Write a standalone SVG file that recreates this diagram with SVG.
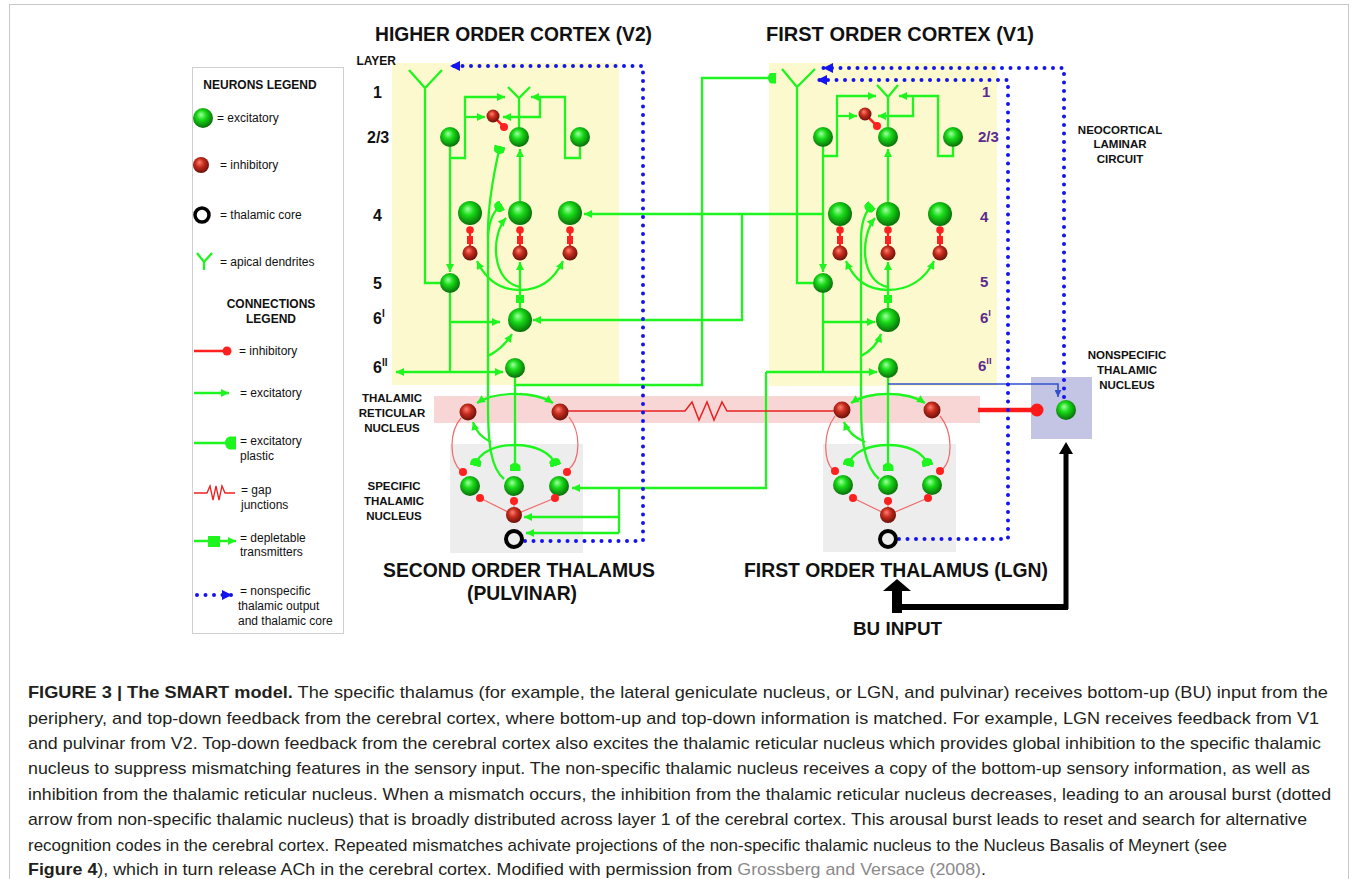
<svg xmlns="http://www.w3.org/2000/svg" width="1358" height="879" viewBox="0 0 1358 879">
<defs>
<radialGradient id="gG" cx="0.45" cy="0.42" r="0.6" fx="0.4" fy="0.33">
<stop offset="0" stop-color="#a6ffa6"/><stop offset="0.4" stop-color="#18dc18"/><stop offset="1" stop-color="#086808"/>
</radialGradient>
<radialGradient id="gR" cx="0.45" cy="0.42" r="0.6" fx="0.4" fy="0.33">
<stop offset="0" stop-color="#ff8070"/><stop offset="0.45" stop-color="#c62b1d"/><stop offset="1" stop-color="#641009"/>
</radialGradient>
<marker id="ag" viewBox="0 0 10 10" refX="10" refY="5" markerWidth="9" markerHeight="8" markerUnits="userSpaceOnUse" orient="auto"><path d="M0,0L10,5L0,10z" fill="#1ef51e"/></marker>
<marker id="mp" viewBox="0 -5.5 8 11" refX="8" refY="0" markerWidth="8" markerHeight="11" markerUnits="userSpaceOnUse" orient="auto"><path d="M8,-5.5L8,5.5L4,5.5A4,5.5 0 0 1 4,-5.5Z" fill="#1ef51e"/></marker>
<marker id="ab" viewBox="0 0 10 10" refX="10" refY="5" markerWidth="11" markerHeight="10" markerUnits="userSpaceOnUse" orient="auto"><path d="M0,0L10,5L0,10z" fill="#1414ee"/></marker>
<marker id="abs" viewBox="0 0 10 10" refX="10" refY="5" markerWidth="7" markerHeight="7" markerUnits="userSpaceOnUse" orient="auto"><path d="M0,0L10,5L0,10z" fill="#3050d0"/></marker>
</defs>
<style>
.g{fill:none;stroke:#1ef51e;stroke-width:2.3}
.ga{marker-end:url(#ag)}
.gp{marker-end:url(#mp)}
.ex{fill:url(#gG)}
.in{fill:url(#gR)}
.rd{fill:#ff2020}
.rl{fill:none;stroke:#f06a6a;stroke-width:1.2}
.bd{fill:none;stroke:#1414ee;stroke-width:4;stroke-dasharray:0 8.5;stroke-linecap:round;marker-end:url(#ab)}
.t{font-family:"Liberation Sans",Arial,sans-serif;font-weight:bold;fill:#111}
.n{font-family:"Liberation Sans",Arial,sans-serif;fill:#111;font-size:12px}
.s{font-size:11.5px;text-anchor:middle}
.ly{font-size:16px}
.pu{font-size:15px;fill:#5f2a8e}
.cap{font-family:"Liberation Sans",Arial,sans-serif;font-size:17px;fill:#231f20}
</style>
<rect x="9.5" y="4.5" width="1339" height="900" fill="#fff" stroke="#c8c8c8"/>

<g id="backgrounds">
<rect x="392" y="63" width="227" height="322" fill="#fcf9cf"/>
<rect x="769" y="63" width="228" height="323" fill="#fcf9cf"/>
<rect x="434" y="396" width="546" height="27" fill="#f9d6d6"/>
<rect x="450" y="444" width="133" height="109" fill="#ededed"/>
<rect x="823" y="444" width="133" height="108" fill="#ededed"/>
<rect x="1031" y="377" width="61" height="62" fill="#c4c5e4"/>
</g>

<g id="legend">
<rect x="192.5" y="67.5" width="151" height="566" fill="#fff" stroke="#cfcfcf"/>
<text class="t" x="260" y="89" font-size="12" text-anchor="middle">NEURONS LEGEND</text>
<circle class="ex" cx="203" cy="118" r="10"/>
<text class="n" x="217" y="122">= excitatory</text>
<circle class="in" cx="201" cy="165" r="8"/>
<text class="n" x="220" y="169">= inhibitory</text>
<circle cx="202" cy="215" r="7" fill="none" stroke="#000" stroke-width="3.5"/>
<text class="n" x="220" y="219">= thalamic core</text>
<path class="g" d="M197,253L204,262L212,253M204,262L204,270"/>
<text class="n" x="220" y="266">= apical dendrites</text>
<text class="t" x="271" y="308" font-size="12" text-anchor="middle">CONNECTIONS</text>
<text class="t" x="271" y="323" font-size="12" text-anchor="middle">LEGEND</text>
<path d="M194,351L224,351" stroke="#ff2020" stroke-width="2.5" fill="none"/>
<circle class="rd" cx="227" cy="351" r="4.5"/>
<text class="n" x="239" y="355">= inhibitory</text>
<path class="g ga" d="M194,393L229,393"/>
<text class="n" x="240" y="397">= excitatory</text>
<path class="g" d="M194,443L228,443"/>
<path d="M236,436.5L236,449.5L230,449.5A5,6.5 0 0 1 230,436.5Z" fill="#1ef51e"/>
<text class="n" x="240" y="445">= excitatory</text>
<text class="n" x="240" y="460">plastic</text>
<path d="M194,493L207,493L210,486L213,500L216,486L219,500L222,486L225,493L235,493" fill="none" stroke="#ee2020" stroke-width="1.3"/>
<text class="n" x="241" y="494">= gap</text>
<text class="n" x="241" y="509">junctions</text>
<path class="g ga" d="M194,541L236,541"/>
<rect x="208" y="536" width="12" height="11" fill="#1ef51e"/>
<text class="n" x="240" y="542">= depletable</text>
<text class="n" x="240" y="556">transmitters</text>
<path class="bd" d="M197,595L232,595"/>
<text class="n" x="240" y="595">= nonspecific</text>
<text class="n" x="238" y="610">thalamic output</text>
<text class="n" x="238" y="625">and thalamic core</text>
</g>

<g id="labels">
<text class="t" x="375" y="41" font-size="20" textLength="277" lengthAdjust="spacingAndGlyphs">HIGHER ORDER CORTEX (V2)</text>
<text class="t" x="766" y="41" font-size="20" textLength="268" lengthAdjust="spacingAndGlyphs">FIRST ORDER CORTEX (V1)</text>
<text class="t" x="383" y="577" font-size="20" textLength="272" lengthAdjust="spacingAndGlyphs">SECOND ORDER THALAMUS</text>
<text class="t" x="467" y="600" font-size="20" textLength="110" lengthAdjust="spacingAndGlyphs">(PULVINAR)</text>
<text class="t" x="744" y="577" font-size="20" textLength="304" lengthAdjust="spacingAndGlyphs">FIRST ORDER THALAMUS (LGN)</text>
<text class="t" x="853" y="635" font-size="18" textLength="89" lengthAdjust="spacingAndGlyphs">BU INPUT</text>
<text class="t" x="396" y="65" font-size="12" text-anchor="end">LAYER</text>
<text class="t ly" x="373" y="98">1</text>
<text class="t ly" x="367" y="143">2/3</text>
<text class="t ly" x="373" y="221">4</text>
<text class="t ly" x="373" y="289">5</text>
<text class="t ly" x="373" y="324">6<tspan font-size="10" dy="-7">I</tspan></text>
<text class="t ly" x="373" y="373">6<tspan font-size="10" dy="-7">II</tspan></text>
<text class="t pu" x="982" y="97">1</text>
<text class="t pu" x="978" y="142">2/3</text>
<text class="t pu" x="980" y="222">4</text>
<text class="t pu" x="980" y="287">5</text>
<text class="t pu" x="980" y="323">6<tspan font-size="9.5" dy="-7">I</tspan></text>
<text class="t pu" x="978" y="371">6<tspan font-size="9.5" dy="-7">II</tspan></text>
<text class="t s" x="1120" y="134">NEOCORTICAL</text>
<text class="t s" x="1120" y="148">LAMINAR</text>
<text class="t s" x="1120" y="163">CIRCUIT</text>
<text class="t s" x="1127" y="359">NONSPECIFIC</text>
<text class="t s" x="1127" y="374">THALAMIC</text>
<text class="t s" x="1127" y="389">NUCLEUS</text>
<text class="t s" x="392" y="402">THALAMIC</text>
<text class="t s" x="392" y="417">RETICULAR</text>
<text class="t s" x="392" y="432">NUCLEUS</text>
<text class="t s" x="394" y="490">SPECIFIC</text>
<text class="t s" x="394" y="505">THALAMIC</text>
<text class="t s" x="394" y="520">NUCLEUS</text>
</g>

<g id="connectors">
<path class="g ga" d="M450,147L450,272"/>
<path class="g ga" d="M450,158L465,158L465,97L505,97"/>
<path class="g ga" d="M465,117L485,117"/>
<path class="g ga" d="M580,147L580,158L565,158L565,97L531,97"/>
<path class="g ga" d="M540,97L540,117L503,117"/>
<path class="g ga" d="M520,201L520,149"/>
<path class="g" d="M450,293L450,372"/>
<path class="g ga" d="M450,322L500,322"/>
<path class="g ga" d="M450,372L396,372"/>
<path class="g ga" d="M450,372L503,372"/>
<path class="g" d="M520,308L520,290"/>
<rect x="516" y="295" width="8" height="8" fill="#1ef51e"/>
<path class="g ga" d="M520,290L520,262"/>
<path class="g ga" d="M520,290C500,290 486,280 477,261"/>
<path class="g ga" d="M520,290C540,290 554,280 563,261"/>
<path class="g ga" d="M520,287C492,282 490,236 506,218"/>
<path class="g gp" d="M504,479C491,468 488,445 488,405L488,232C488,205 494,172 500,146"/>
<path class="g gp" d="M488,236C489,220 494,210 502,205"/>
<path class="g ga" d="M488,356C496,352 505,345 512,334"/>
<path class="g ga" d="M491,442C482,438 476,432 473,422"/>
<path class="g gp" d="M515,378L515,471"/>
<path class="g gp" d="M515,385L702,385L702,78L776,78"/>
<path class="g ga" d="M515,394C498,394 486,397 477,403"/>
<path class="g ga" d="M515,394C532,394 544,397 553,403"/>
<path class="g gp" d="M515,445C497,445 479,451 475,466"/>
<path class="g gp" d="M515,445C533,445 551,451 556,466"/>
<path class="g ga" d="M823,214L584,214"/>
<path class="g ga" d="M742,214L742,320L533,320"/>
<path class="g ga" d="M823,147L823,272"/>
<path class="g ga" d="M823,156L837,156L837,96L876,96"/>
<path class="g ga" d="M837,116L857,116"/>
<path class="g ga" d="M953,147L953,156L938,156L938,96L899,96"/>
<path class="g ga" d="M913,96L913,116L878,116"/>
<path class="g ga" d="M888,202L888,149"/>
<path class="g" d="M823,293L823,372"/>
<path class="g ga" d="M823,322L875,322"/>
<path class="g ga" d="M766,372L877,372"/>
<path class="g ga" d="M766,372L766,488L572,488"/>
<path class="g" d="M619,488L619,533"/>
<path class="g ga" d="M619,517L524,517"/>
<path class="g ga" d="M619,533L526,533"/>
<path class="g" d="M888,308L888,290"/>
<rect x="884" y="295" width="8" height="8" fill="#1ef51e"/>
<path class="g ga" d="M888,290L888,262"/>
<path class="g ga" d="M888,290C868,290 854,280 846,261"/>
<path class="g ga" d="M888,290C908,290 925,280 934,261"/>
<path class="g ga" d="M888,287C860,282 860,236 875,218"/>
<path class="g gp" d="M879,479C866,468 861,445 861,405L861,240C861,222 865,212 872,205"/>
<path class="g ga" d="M861,356C869,352 877,345 881,334"/>
<path class="g ga" d="M865,442C855,438 848,432 844,422"/>
<path class="g gp" d="M888,378L888,471"/>
<path class="g ga" d="M888,394C871,394 860,397 851,403"/>
<path class="g ga" d="M888,394C905,394 916,397 925,403"/>
<path class="g gp" d="M888,445C870,445 852,451 848,466"/>
<path class="g gp" d="M888,445C906,445 924,451 928,466"/>
<path d="M493,116L504,127M865,114L877,126" stroke="#ff2020" stroke-width="2.5" fill="none"/>
<path d="M470,229L470,246M520,229L520,246M570,229L570,246M840,229L840,246M888,229L888,246M940,229L940,246" stroke="#ff2020" stroke-width="2.2" fill="none"/>
<path class="rl" d="M461,418C449,432 449,460 461,471M569,417C581,432 581,460 568,470M514,515L480,498M514,515L514,501M514,515L555,498"/>
<path class="rl" d="M835,416C823,432 823,460 833,470M940,416C953,432 953,460 942,470M888,515L853,498M888,515L888,501M888,515L928,498"/>
<path d="M568,411L685,411L692,402L699,420L707,402L714,420L722,402L727,411L834,411" fill="none" stroke="#e82020" stroke-width="1.5"/>
<path d="M978,410L1033,410" stroke="#ff1a1a" stroke-width="4.5" fill="none"/>
<circle cx="1037" cy="410" r="6.5" fill="#ff1a1a"/>
<path d="M888,384L1058,384L1058,397" fill="none" stroke="#3050d0" stroke-width="1.6" marker-end="url(#abs)"/>
<path class="bd" d="M525,541L643,541L643,66L450,66"/>
<path class="bd" d="M899,539L1008,539L1008,80L817,80"/>
<path class="bd" d="M1064,397L1064,68L823,68"/>
<path d="M895,607L1068,607" stroke="#000" stroke-width="6" fill="none"/>
<path d="M1066,609L1066,452" stroke="#000" stroke-width="5" fill="none"/>
<path d="M1059,454L1073,454L1066,442Z" fill="#000"/>
<rect x="892" y="589" width="10" height="24" fill="#000"/>
<path d="M883,591L911,591L897,579Z" fill="#000"/>
</g>

<g id="v2-l5-apical"><path class="g" d="M409,70L425,88L442,70M425,88L425,283L440,283"/></g>
<g id="v2-l23-left"><circle class="ex" cx="450" cy="137" r="10"/></g>
<g id="v2-l23-center"><path class="g" d="M508,87L519,98L530,87M519,98L519,127"/><circle class="ex" cx="519" cy="137" r="10"/></g>
<g id="v2-l23-right"><circle class="ex" cx="580" cy="137" r="10"/></g>
<g id="v2-l23-inh"><circle class="in" cx="493" cy="116" r="6.5"/><circle class="rd" cx="504" cy="127" r="4"/></g>
<g id="v2-l4-left"><circle class="ex" cx="470" cy="213" r="12"/><circle class="rd" cx="470" cy="230" r="3.8"/><rect x="467" y="236" width="6" height="8" fill="#ff2020"/><circle class="in" cx="470" cy="253" r="7.5"/></g>
<g id="v2-l4-center"><circle class="ex" cx="520" cy="213" r="12"/><circle class="rd" cx="520" cy="230" r="3.8"/><rect x="517" y="236" width="6" height="8" fill="#ff2020"/><circle class="in" cx="520" cy="253" r="7.5"/></g>
<g id="v2-l4-right"><circle class="ex" cx="570" cy="213" r="12"/><circle class="rd" cx="570" cy="230" r="3.8"/><rect x="567" y="236" width="6" height="8" fill="#ff2020"/><circle class="in" cx="570" cy="253" r="7.5"/></g>
<g id="v2-l5"><circle class="ex" cx="450" cy="283" r="10"/></g>
<g id="v2-l6i"><circle class="ex" cx="520" cy="320" r="12"/></g>
<g id="v2-l6ii"><circle class="ex" cx="515" cy="368" r="10"/></g>
<g id="v1-l5-apical"><path class="g" d="M782,69L797,87L815,69M797,87L797,283L813,283"/></g>
<g id="v1-l23-left"><circle class="ex" cx="823" cy="137" r="10"/></g>
<g id="v1-l23-center"><path class="g" d="M877,85L888,97L898,85M888,97L888,127"/><circle class="ex" cx="888" cy="137" r="10"/></g>
<g id="v1-l23-right"><circle class="ex" cx="953" cy="137" r="10"/></g>
<g id="v1-l23-inh"><circle class="in" cx="865" cy="114" r="6.5"/><circle class="rd" cx="877" cy="126" r="4"/></g>
<g id="v1-l4-left"><circle class="ex" cx="840" cy="214" r="12"/><circle class="rd" cx="840" cy="230" r="3.8"/><rect x="837" y="236" width="6" height="8" fill="#ff2020"/><circle class="in" cx="840" cy="253" r="7.5"/></g>
<g id="v1-l4-center"><circle class="ex" cx="888" cy="214" r="12"/><circle class="rd" cx="888" cy="230" r="3.8"/><rect x="885" y="236" width="6" height="8" fill="#ff2020"/><circle class="in" cx="888" cy="253" r="7.5"/></g>
<g id="v1-l4-right"><circle class="ex" cx="940" cy="214" r="12"/><circle class="rd" cx="940" cy="230" r="3.8"/><rect x="937" y="236" width="6" height="8" fill="#ff2020"/><circle class="in" cx="940" cy="253" r="7.5"/></g>
<g id="v1-l5"><circle class="ex" cx="823" cy="283" r="10"/></g>
<g id="v1-l6i"><circle class="ex" cx="888" cy="320" r="12"/></g>
<g id="v1-l6ii"><circle class="ex" cx="888" cy="368" r="10"/></g>
<g id="pulvinar-trn"><circle class="in" cx="468" cy="412" r="8.5"/><circle class="in" cx="560" cy="412" r="8.5"/></g>
<g id="pulvinar-specific"><circle class="ex" cx="470" cy="486" r="10"/><circle class="ex" cx="514" cy="486" r="10"/><circle class="ex" cx="559" cy="486" r="10"/>
<circle class="rd" cx="463" cy="472" r="4"/><circle class="rd" cx="567" cy="472" r="4"/><circle class="rd" cx="480" cy="498" r="4"/><circle class="rd" cx="514" cy="501" r="4"/><circle class="rd" cx="555" cy="498" r="4"/>
<circle class="in" cx="514" cy="515" r="8"/></g>
<g id="pulvinar-core"><circle cx="514" cy="539" r="8" fill="none" stroke="#000" stroke-width="4"/></g>
<g id="lgn-trn"><circle class="in" cx="842" cy="410" r="8.5"/><circle class="in" cx="932" cy="410" r="8.5"/></g>
<g id="lgn-specific"><circle class="ex" cx="843" cy="485" r="10"/><circle class="ex" cx="888" cy="485" r="10"/><circle class="ex" cx="932" cy="485" r="10"/>
<circle class="rd" cx="835" cy="471" r="4"/><circle class="rd" cx="940" cy="471" r="4"/><circle class="rd" cx="853" cy="498" r="4"/><circle class="rd" cx="888" cy="501" r="4"/><circle class="rd" cx="928" cy="498" r="4"/>
<circle class="in" cx="888" cy="515" r="8"/></g>
<g id="lgn-core"><circle cx="888" cy="539" r="8" fill="none" stroke="#000" stroke-width="4"/></g>
<g id="nonspecific"><circle class="ex" cx="1066" cy="410" r="10"/></g>

<g id="caption">
<text class="cap" x="28" y="698" textLength="1300" lengthAdjust="spacingAndGlyphs"><tspan font-weight="bold">FIGURE 3 | The SMART model.</tspan> The specific thalamus (for example, the lateral geniculate nucleus, or LGN, and pulvinar) receives bottom-up (BU) input from the</text>
<text class="cap" x="28" y="724" textLength="1291" lengthAdjust="spacingAndGlyphs">periphery, and top-down feedback from the cerebral cortex, where bottom-up and top-down information is matched. For example, LGN receives feedback from V1</text>
<text class="cap" x="28" y="749" textLength="1293" lengthAdjust="spacingAndGlyphs">and pulvinar from V2. Top-down feedback from the cerebral cortex also excites the thalamic reticular nucleus which provides global inhibition to the specific thalamic</text>
<text class="cap" x="28" y="774" textLength="1282" lengthAdjust="spacingAndGlyphs">nucleus to suppress mismatching features in the sensory input. The non-specific thalamic nucleus receives a copy of the bottom-up sensory information, as well as</text>
<text class="cap" x="28" y="800" textLength="1303" lengthAdjust="spacingAndGlyphs">inhibition from the thalamic reticular nucleus. When a mismatch occurs, the inhibition from the thalamic reticular nucleus decreases, leading to an arousal burst (dotted</text>
<text class="cap" x="28" y="825" textLength="1279" lengthAdjust="spacingAndGlyphs">arrow from non-specific thalamic nucleus) that is broadly distributed across layer 1 of the cerebral cortex. This arousal burst leads to reset and search for alternative</text>
<text class="cap" x="28" y="851" textLength="1199" lengthAdjust="spacingAndGlyphs">recognition codes in the cerebral cortex. Repeated mismatches achivate projections of the non-specific thalamic nucleus to the Nucleus Basalis of Meynert (see</text>
<text class="cap" x="28" y="875" textLength="958" lengthAdjust="spacingAndGlyphs"><tspan font-weight="bold">Figure 4</tspan>), which in turn release ACh in the cerebral cortex. Modified with permission from <tspan fill="#8a8a8a">Grossberg and Versace (2008)</tspan>.</text>
</g>
</svg>
